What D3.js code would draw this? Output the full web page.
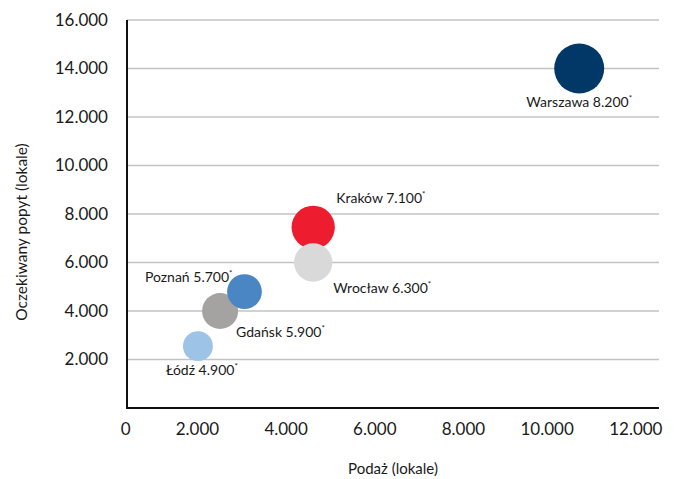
<!DOCTYPE html>
<html>
<head>
<meta charset="utf-8">
<script src="https://cdn.jsdelivr.net/npm/d3@7"></script>
<style>
  html, body { margin: 0; padding: 0; background: #fff; }
  svg { display: block; font-family: Lato, "Open Sans", sans-serif; }
</style>
</head>
<body>
<svg id="chart" width="682" height="479"></svg>
<script>
// City markets: supply (x), expected demand (y), and the stated figure shown in each label (bubble size)
const cities   = ["Warszawa", "Kraków", "Wrocław", "Poznań", "Gdańsk", "Łódź"];
const supply   = [10200, 4200, 4200, 2650, 2100, 1600];
const demand   = [14000, 7450, 6000, 4800, 4000, 2550];
const bubbleValues = [8200, 7100, 6300, 5700, 5900, 4900];
const bubbleLabels = ["8.200", "7.100", "6.300", "5.700", "5.900", "4.900"];

const xTicks = [0, 2000, 4000, 6000, 8000, 10000, 12000];
const yTicks = [2000, 4000, 6000, 8000, 10000, 12000, 14000, 16000];
const xTitle = "Podaż (lokale)";
const yTitle = "Oczekiwany popyt (lokale)";

const colors = {
  "Warszawa": "#023868",
  "Kraków":   "#ED1C2E",
  "Wrocław":  "#D9D9D9",
  "Poznań":   "#4A86C4",
  "Gdańsk":   "#A5A2A2",
  "Łódź":     "#9DC3E6"
};

// label placement around each bubble: anchor and offset from the bubble centre
const labelPlacement = {
  "Warszawa": { anchor: "middle", dx: 0,   dy: 38 },
  "Kraków":   { anchor: "start",  dx: 23,  dy: -24 },
  "Wrocław":  { anchor: "start",  dx: 20,  dy: 30 },
  "Poznań":   { anchor: "end",    dx: -12, dy: -10 },
  "Gdańsk":   { anchor: "start",  dx: 16,  dy: 26 },
  "Łódź":     { anchor: "middle", dx: 4,   dy: 29 }
};

const margin = { left: 127, right: 23, top: 20, bottom: 71 };
const W = 682, H = 479;
const svg = d3.select("#chart");

const x = d3.scaleLinear().domain([0, 12000]).range([margin.left, W - margin.right]);
const y = d3.scaleLinear().domain([0, 16000]).range([H - margin.bottom, margin.top]);
const r = d3.scaleLinear().domain([0, 8200]).range([0, 25]);

const fmt = v => d3.format(",")(v).replace(/,/g, ".");
const textColor = "#1a1a1a";

// horizontal gridlines
svg.append("g")
  .selectAll("line")
  .data(yTicks)
  .join("line")
  .attr("x1", x(0)).attr("x2", x(12000))
  .attr("y1", d => y(d)).attr("y2", d => y(d))
  .attr("stroke", "#C3C3C3")
  .attr("stroke-width", 1.5);

// y axis
const yAxis = svg.append("g")
  .attr("transform", `translate(${x(0)},0)`)
  .call(d3.axisLeft(y).tickValues(yTicks).tickSize(0).tickPadding(19).tickFormat(fmt));
yAxis.select(".domain").remove();
yAxis.selectAll("text")
  .attr("font-size", 17)
  .attr("font-family", "Lato, sans-serif")
  .attr("fill", textColor);

// x axis
const xAxis = svg.append("g")
  .attr("transform", `translate(0,${y(0)})`)
  .call(d3.axisBottom(x).tickValues(xTicks).tickSize(0).tickPadding(0).tickFormat(fmt));
xAxis.select(".domain").remove();
xAxis.selectAll("text")
  .attr("font-size", 17)
  .attr("font-family", "Lato, sans-serif")
  .attr("fill", textColor)
  .attr("text-anchor", "end")
  .attr("dx", 3)
  .attr("dy", null)
  .attr("y", 27);

// axis lines
svg.append("path")
  .attr("d", `M${x(0)},${y(16000)}V${y(0)}H${x(12000)}`)
  .attr("fill", "none")
  .attr("stroke", "#111")
  .attr("stroke-width", 2);

// bubbles, largest drawn first so smaller ones sit on top
const rows = cities.map((c, i) => ({
  city: c, sx: supply[i], dy: demand[i], v: bubbleValues[i], lbl: bubbleLabels[i]
}));
const order = rows.slice().sort((a, b) => b.v - a.v);

svg.append("g")
  .selectAll("circle")
  .data(order)
  .join("circle")
  .attr("cx", d => x(d.sx))
  .attr("cy", d => y(d.dy))
  .attr("r", d => r(d.v))
  .attr("fill", d => colors[d.city]);

// data labels with superscript asterisk
const labels = svg.append("g")
  .selectAll("text")
  .data(rows)
  .join("text")
  .attr("x", d => x(d.sx) + labelPlacement[d.city].dx)
  .attr("y", d => y(d.dy) + labelPlacement[d.city].dy)
  .attr("text-anchor", d => labelPlacement[d.city].anchor)
  .attr("font-size", 14)
  .attr("fill", textColor);
labels.append("tspan").text(d => `${d.city} ${d.lbl}`);
labels.append("tspan")
  .attr("font-size", 8)
  .attr("dy", -6)
  .text("*");

// axis titles
svg.append("text")
  .attr("x", x(6000))
  .attr("y", 474)
  .attr("text-anchor", "middle")
  .attr("font-size", 15)
  .attr("fill", textColor)
  .text(xTitle);

svg.append("text")
  .attr("transform", `translate(27,232) rotate(-90)`)
  .attr("text-anchor", "middle")
  .attr("font-size", 15.5)
  .attr("fill", textColor)
  .text(yTitle);
</script>
</body>
</html>
